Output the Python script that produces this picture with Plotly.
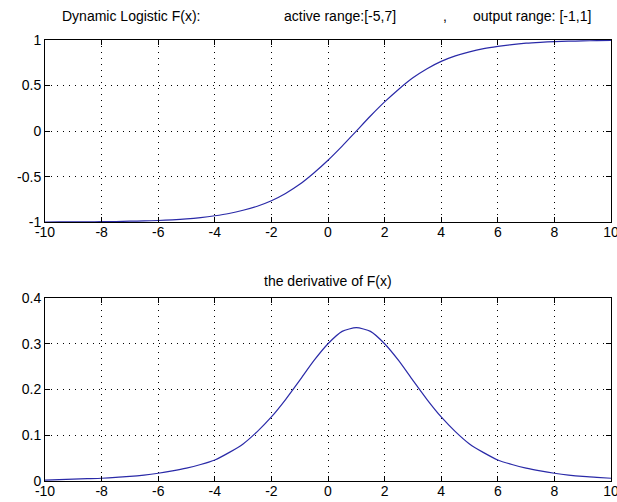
import plotly.graph_objects as go
from plotly.subplots import make_subplots

# x samples (half-unit steps)
x_vals = [-10.0, -9.5, -9.0, -8.5, -8.0, -7.5, -7.0, -6.5, -6.0, -5.5, -5.0,
          -4.5, -4.0, -3.5, -3.0, -2.5, -2.0, -1.5, -1.0, -0.5, 0.0,
          0.5, 1.0, 1.5, 2.0, 2.5, 3.0, 3.5, 4.0, 4.5, 5.0,
          5.5, 6.0, 6.5, 7.0, 7.5, 8.0, 8.5, 9.0, 9.5, 10.0]

# F(x)
f_vals = [-0.999, -0.998, -0.997, -0.996, -0.995, -0.993, -0.990, -0.987, -0.982, -0.975, -0.965,
          -0.950, -0.930, -0.905, -0.870, -0.825, -0.765, -0.685, -0.585, -0.460, -0.320,
          -0.165, 0.000, 0.165, 0.320, 0.460, 0.585, 0.685, 0.765, 0.825, 0.870,
          0.905, 0.930, 0.950, 0.965, 0.975, 0.982, 0.987, 0.990, 0.993, 0.995]

# F'(x)
d_vals = [0.002, 0.003, 0.004, 0.005, 0.006, 0.008, 0.010, 0.013, 0.017, 0.022, 0.028,
          0.036, 0.046, 0.062, 0.081, 0.108, 0.140, 0.178, 0.220, 0.263, 0.300,
          0.327, 0.335, 0.327, 0.300, 0.263, 0.220, 0.178, 0.140, 0.108, 0.081,
          0.062, 0.046, 0.036, 0.028, 0.022, 0.017, 0.013, 0.010, 0.008, 0.006]

x_ticks = [-10, -8, -6, -4, -2, 0, 2, 4, 6, 8, 10]
x_ticktext = ["-10", "-8", "-6", "-4", "-2", "0", "2", "4", "6", "8", "10"]
y1_ticks = [-1, -0.5, 0, 0.5, 1]
y1_ticktext = ["-1", "-0.5", "0", "0.5", "1"]
y2_ticks = [0, 0.1, 0.2, 0.3, 0.4]
y2_ticktext = ["0", "0.1", "0.2", "0.3", "0.4"]

title_parts = ["Dynamic Logistic F(x):", "active range:[-5,7]", ",", "output range: [-1,1]"]
title2 = "the derivative of F(x)"

LINE = "#2a2aa8"
FONT = "Liberation Sans, Arial, sans-serif"

fig = make_subplots(rows=2, cols=1)
fig.add_trace(go.Scatter(x=x_vals, y=f_vals, mode="lines", line_shape="spline",
                         line=dict(color=LINE, width=1.2, smoothing=0.6), showlegend=False), row=1, col=1)
fig.add_trace(go.Scatter(x=x_vals, y=d_vals, mode="lines", line_shape="spline",
                         line=dict(color=LINE, width=1.2, smoothing=0.6), showlegend=False), row=2, col=1)

axis_common = dict(showline=True, linecolor="black", linewidth=1, mirror="ticks",
                   ticks="inside", ticklen=5, tickcolor="black", tickwidth=1,
                   showgrid=True, gridcolor="black", gridwidth=1, griddash="1px,5px",
                   zeroline=False, automargin=False, ticklabeloverflow="allow",
                   tickfont=dict(family=FONT, size=14, color="black"))

fig.update_xaxes(range=[-10, 10], tickvals=x_ticks, ticktext=x_ticktext,
                 ticklabelstandoff=-3, **axis_common)
fig.update_yaxes(**axis_common)
fig.update_yaxes(range=[-1, 1], tickvals=y1_ticks, ticktext=y1_ticktext, row=1, col=1)
fig.update_yaxes(range=[0, 0.4], tickvals=y2_ticks, ticktext=y2_ticktext, row=2, col=1)

fig.update_layout(
    width=617, height=502,
    margin=dict(l=45, r=6, t=40, b=21),
    paper_bgcolor="white", plot_bgcolor="white",
    font=dict(family=FONT, size=14, color="black"),
    yaxis=dict(domain=[0.587, 1.0]),
    yaxis2=dict(domain=[0.0, 0.415]),
    xaxis=dict(domain=[0, 1]), xaxis2=dict(domain=[0, 1]),
)

# title pieces placed in pixel positions (paper coordinates)
W = 617 - 45 - 6
H = 502 - 40 - 21
def px(xp):
    return (xp - 45) / W
def py(yp):
    return (481 - yp) / H

title_x = [60, 282, 441, 471]
for t, xp in zip(title_parts, title_x):
    fig.add_annotation(text=t, x=px(xp), y=py(16.5), xref="paper", yref="paper",
                       xanchor="left", yanchor="middle", showarrow=False,
                       font=dict(family=FONT, size=14, color="black"))
fig.add_annotation(text=title2, x=0.5, y=py(281), xref="paper", yref="paper",
                   xanchor="center", yanchor="middle", showarrow=False,
                   font=dict(family=FONT, size=14, color="black"))

fig.write_html("out.html", config={"displayModeBar": False},
               post_script="document.body.style.margin='0';document.body.style.overflow='hidden';")
